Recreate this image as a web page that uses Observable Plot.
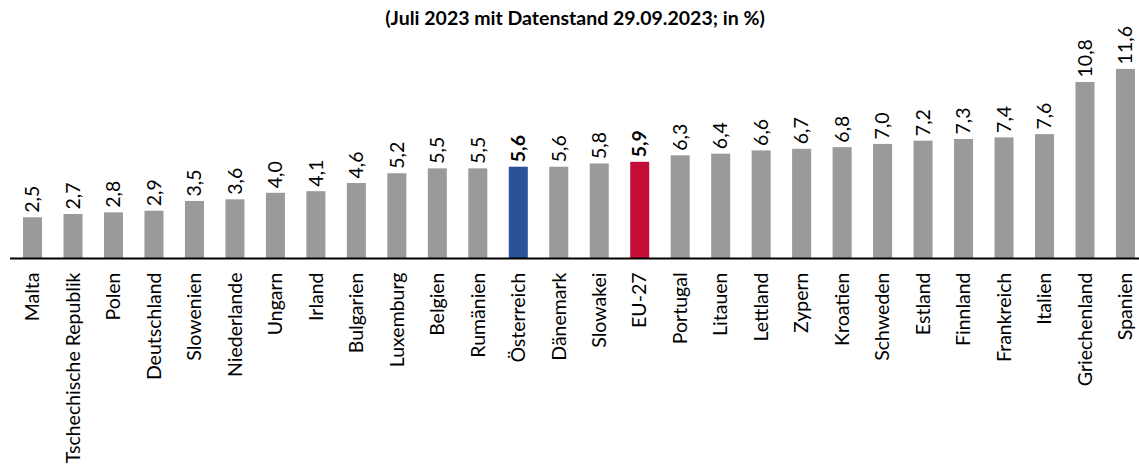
<!DOCTYPE html>
<html>
<head>
<meta charset="utf-8">
<script src="https://cdn.jsdelivr.net/npm/d3@7"></script>
<script src="https://cdn.jsdelivr.net/npm/@observablehq/plot@0.6"></script>
<style>
  html, body { margin: 0; padding: 0; background: #fff; }
  #chart svg { display: block; }
</style>
</head>
<body>
<div id="chart"></div>
<script>
const title = "(Juli 2023 mit Datenstand 29.09.2023; in %)";
const countries = ["Malta","Tschechische Republik","Polen","Deutschland","Slowenien","Niederlande","Ungarn","Irland","Bulgarien","Luxemburg","Belgien","Rumänien","Österreich","Dänemark","Slowakei","EU-27","Portugal","Litauen","Lettland","Zypern","Kroatien","Schweden","Estland","Finnland","Frankreich","Italien","Griechenland","Spanien"];
const values = [2.5,2.7,2.8,2.9,3.5,3.6,4.0,4.1,4.6,5.2,5.5,5.5,5.6,5.6,5.8,5.9,6.3,6.4,6.6,6.7,6.8,7.0,7.2,7.3,7.4,7.6,10.8,11.6];
const highlight = {"Österreich": "#2b5197", "EU-27": "#c40d36"};
const defaultColor = "#9a9a9a";

const data = countries.map((c, i) => ({country: c, value: values[i]}));
const fmt = v => v.toFixed(1).replace(".", ",");
const font = "Lato, 'Open Sans', sans-serif";
const isHi = d => d.country in highlight;

const chart = Plot.plot({
  width: 1139,
  height: 466,
  marginLeft: 10,
  marginRight: 0,
  marginTop: 62.4,
  marginBottom: 208,
  style: {fontFamily: font, fontSize: "19.5px", color: "#000"},
  x: {domain: countries, range: [12.3, 1145.7], paddingInner: 0.53, paddingOuter: 0.265, round: false, axis: null},
  y: {domain: [0, 12], axis: null},
  marks: [
    Plot.barY(data, {x: "country", y: "value", fill: d => highlight[d.country] || defaultColor}),
    Plot.ruleY([0], {stroke: "#000", strokeWidth: 2}),
    Plot.text(data.filter(d => !isHi(d)), {x: "country", y: "value", text: d => fmt(d.value), rotate: -90, textAnchor: "start", dy: -5,
      fontWeight: "normal", fill: "#000", fontSize: 19.5}),
    Plot.text(data.filter(isHi), {x: "country", y: "value", text: d => fmt(d.value), rotate: -90, textAnchor: "start", dy: -5,
      fontWeight: "bold", fill: "#000", fontSize: 19.5}),
    Plot.text(data, {x: "country", y: 0, text: "country", rotate: -90, textAnchor: "end", dy: 14, fill: "#000", fontSize: 19.5}),
    Plot.text([title], {frameAnchor: "top", lineAnchor: "middle", text: d => d, fontWeight: "bold", fontSize: 19.5, dy: -44, fill: "#000"})
  ]
});
document.getElementById("chart").appendChild(chart);
</script>
</body>
</html>
